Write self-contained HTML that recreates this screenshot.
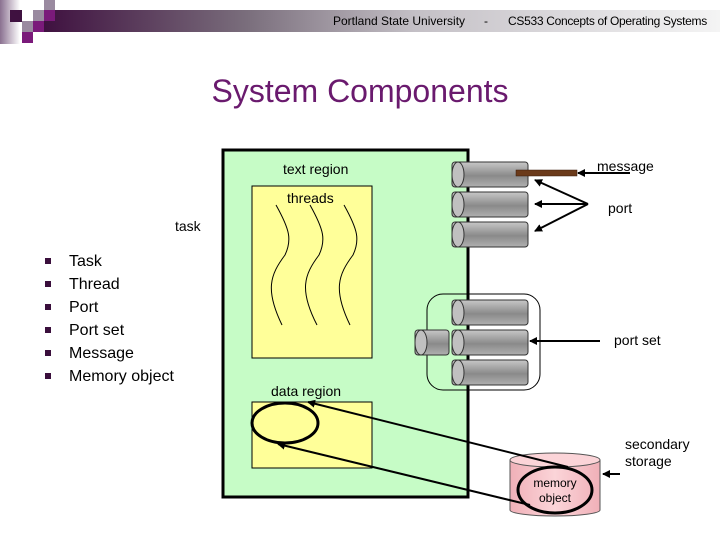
<!DOCTYPE html>
<html><head><style>
body{margin:0;width:720px;height:540px;background:#fff;overflow:hidden;font-family:"Liberation Sans",sans-serif}
svg{display:block}
</style></head><body>
<svg width="720" height="540" viewBox="0 0 720 540" xmlns="http://www.w3.org/2000/svg" font-family="Liberation Sans, sans-serif">
<defs>
<linearGradient id="hdr" x1="44" x2="720" gradientUnits="userSpaceOnUse"><stop offset="0" stop-color="#3f1140"/><stop offset="0.3" stop-color="#7a6e7c"/><stop offset="0.55" stop-color="#c4c0c6"/><stop offset="1" stop-color="#f4f4f4"/></linearGradient>
<linearGradient id="lft" x1="0" x2="1"><stop offset="0" stop-color="#8a7090"/><stop offset="1" stop-color="#fff"/></linearGradient>
<linearGradient id="cyl" x1="0" y1="0" x2="0" y2="1"><stop offset="0" stop-color="#c8c8c8"/><stop offset="0.55" stop-color="#8a8a8a"/><stop offset="1" stop-color="#b0b0b0"/></linearGradient>
<linearGradient id="pink" x1="0" x2="1"><stop offset="0" stop-color="#f0b0b8"/><stop offset="0.5" stop-color="#fbd4d8"/><stop offset="1" stop-color="#f0b0b8"/></linearGradient>
<marker id="ah" markerWidth="8" markerHeight="8" refX="7" refY="4" orient="auto" markerUnits="userSpaceOnUse"><path d="M0,0 L8,4 L0,8 z" fill="#000"/></marker>
</defs>
<rect x="0" y="0" width="20" height="44" fill="url(#lft)"/>
<rect x="44" y="10" width="676" height="22" fill="url(#hdr)"/>
<rect x="10" y="10" width="12" height="12" fill="#3f1140"/>
<rect x="22" y="10" width="11" height="11" fill="#fff"/>
<rect x="33" y="10" width="11" height="11" fill="#9a8aa0"/>
<rect x="44" y="0" width="11" height="10" fill="#9a8aa0"/>
<rect x="44" y="10" width="11" height="11" fill="#7a1a7a"/>
<rect x="22" y="21" width="11" height="11" fill="#9a8aa0"/>
<rect x="33" y="21" width="11" height="11" fill="#7a1a7a"/>
<rect x="22" y="32" width="11" height="11" fill="#7a1a7a"/>
<text x="333" y="25" font-size="12" fill="#000">Portland State University</text>
<text x="484" y="25" font-size="12">-</text>
<text x="508" y="25" font-size="12" letter-spacing="-0.3">CS533 Concepts of Operating Systems</text>
<text x="360" y="102" font-size="32" fill="#6a1a6e" text-anchor="middle">System Components</text>
<g fill="#3a0f3c"><rect x="45" y="258" width="6" height="6"/><rect x="45" y="281" width="6" height="6"/><rect x="45" y="304" width="6" height="6"/><rect x="45" y="327" width="6" height="6"/><rect x="45" y="350" width="6" height="6"/><rect x="45" y="373" width="6" height="6"/></g>
<g font-size="16" fill="#000"><text x="69" y="266">Task</text><text x="69" y="289">Thread</text><text x="69" y="312">Port</text><text x="69" y="335">Port set</text><text x="69" y="358">Message</text><text x="69" y="381">Memory object</text></g>
<text x="175" y="231" font-size="14">task</text>
<rect x="223" y="150" width="245" height="347" fill="#c6fcc6" stroke="#000" stroke-width="3"/>
<text x="283" y="174" font-size="14">text region</text>
<rect x="252" y="186" width="120" height="172" fill="#ffff99" stroke="#000" stroke-width="1"/>
<text x="287" y="203" font-size="14">threads</text>
<g fill="none" stroke="#000" stroke-width="1">
<path d="M276,205 C290,230 292,240 285,255 C270,275 265,290 282,325"/>
<path d="M310,205 C324,230 326,240 319,255 C304,275 299,290 317,325"/>
<path d="M344,205 C358,230 360,240 353,255 C338,275 333,290 350,325"/>
</g>
<text x="271" y="396" font-size="14">data region</text>
<rect x="252" y="402" width="120" height="66" fill="#ffff99" stroke="#000" stroke-width="1"/>
<ellipse cx="285" cy="423" rx="33" ry="20" fill="#ffff99" stroke="#000" stroke-width="3"/>
<rect x="427" y="294" width="113" height="96" rx="16" fill="none" stroke="#000" stroke-width="1"/>
<g stroke="#333" stroke-width="1">
<rect x="452" y="162" width="76" height="25" rx="3" fill="url(#cyl)"/><ellipse cx="458" cy="174.5" rx="6" ry="12.5" fill="#c0c0c0"/>
<rect x="452" y="192" width="76" height="25" rx="3" fill="url(#cyl)"/><ellipse cx="458" cy="204.5" rx="6" ry="12.5" fill="#c0c0c0"/>
<rect x="452" y="222" width="76" height="25" rx="3" fill="url(#cyl)"/><ellipse cx="458" cy="234.5" rx="6" ry="12.5" fill="#c0c0c0"/>
<rect x="452" y="300" width="76" height="25" rx="3" fill="url(#cyl)"/><ellipse cx="458" cy="312.5" rx="6" ry="12.5" fill="#c0c0c0"/>
<rect x="452" y="330" width="76" height="25" rx="3" fill="url(#cyl)"/><ellipse cx="458" cy="342.5" rx="6" ry="12.5" fill="#c0c0c0"/>
<rect x="452" y="360" width="76" height="25" rx="3" fill="url(#cyl)"/><ellipse cx="458" cy="372.5" rx="6" ry="12.5" fill="#c0c0c0"/>
<rect x="415" y="330" width="34" height="25" rx="3" fill="url(#cyl)"/><ellipse cx="421" cy="342.5" rx="6" ry="12.5" fill="#c0c0c0"/>
</g>
<rect x="516" y="170" width="61" height="6" fill="#6b3a1a" stroke="#3a1a0a" stroke-width="0.5"/>
<g stroke="#000" stroke-width="2" fill="none">
<line x1="630" y1="173" x2="578" y2="173" marker-end="url(#ah)"/>
<line x1="588" y1="204" x2="535" y2="180" marker-end="url(#ah)"/>
<line x1="588" y1="204" x2="535" y2="204" marker-end="url(#ah)"/>
<line x1="588" y1="204" x2="535" y2="231" marker-end="url(#ah)"/>
<line x1="600" y1="341" x2="530" y2="341" marker-end="url(#ah)"/>
<line x1="620" y1="474" x2="603" y2="474" marker-end="url(#ah)"/>
</g>
<text x="597" y="171" font-size="14">message</text>
<text x="608" y="213" font-size="14">port</text>
<text x="614" y="345" font-size="14">port set</text>
<text x="625" y="449" font-size="14">secondary</text>
<text x="625" y="466" font-size="14">storage</text>
<path d="M510,460 L510,510 A45,6 0 0 0 600,510 L600,460" fill="url(#pink)" stroke="#555" stroke-width="1"/>
<ellipse cx="555" cy="460" rx="45" ry="7" fill="#fbd4d8" stroke="#555" stroke-width="1"/>
<ellipse cx="555" cy="490" rx="37" ry="23" fill="none" stroke="#000" stroke-width="3"/>
<text x="555" y="487" font-size="12" text-anchor="middle">memory</text>
<text x="555" y="502" font-size="12" text-anchor="middle">object</text>
<g stroke="#000" stroke-width="2" fill="none">
<line x1="568" y1="467" x2="308" y2="402" marker-end="url(#ah)"/>
<line x1="530" y1="505" x2="278" y2="444" marker-end="url(#ah)"/>
</g>
</svg>
</body></html>
